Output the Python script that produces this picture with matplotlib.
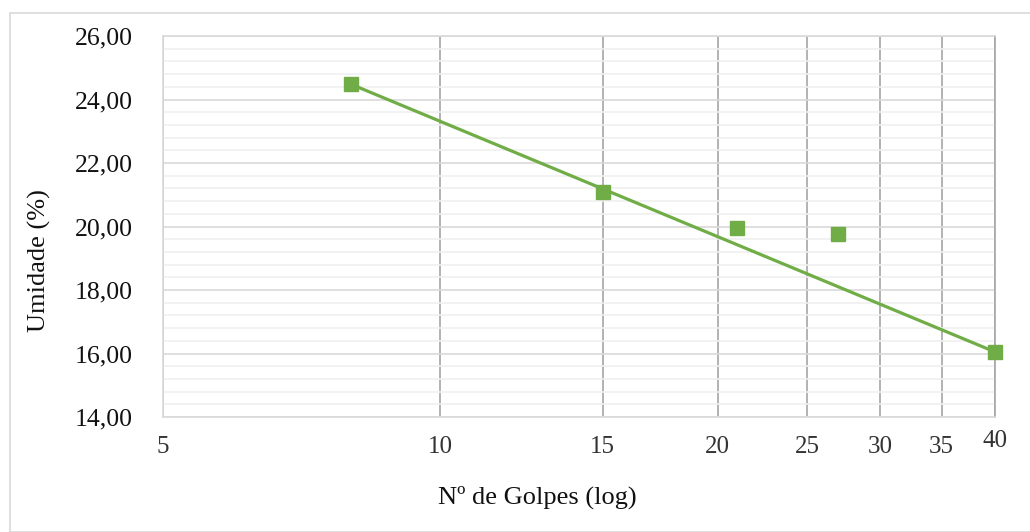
import matplotlib.pyplot as plt
import numpy as np
from matplotlib.ticker import FixedLocator, MultipleLocator, NullLocator, FuncFormatter
from matplotlib.patches import Rectangle

# data
golpes = [8, 15, 21, 27, 40]
umidade = [24.48, 21.08, 19.95, 19.77, 16.05]
trend_x = [8, 40]
trend_y = [24.48, 16.05]
x_ticks = [5, 10, 15, 20, 25, 30, 35, 40]
green = '#70AD47'

plt.rcParams['font.family'] = ['Liberation Serif', 'DejaVu Serif']

fig = plt.figure(figsize=(10.3, 5.32), dpi=100)
# outer chart border
fig.patches.append(Rectangle((10/1030, 0), 1.2, 1 - 13/532, transform=fig.transFigure,
                             fill=False, edgecolor='#d9d9d9', linewidth=1.2))
ax = fig.add_axes([163/1030, 1 - 417/532, 832/1030, 381/532])

ax.set_xscale('log')
ax.set_xlim(5, 40)
ax.set_ylim(14, 26)

ax.xaxis.set_major_locator(FixedLocator(x_ticks))
ax.xaxis.set_minor_locator(NullLocator())
ax.xaxis.set_major_formatter(FuncFormatter(lambda v, p: f'{v:g}'))
ax.yaxis.set_major_locator(MultipleLocator(2))
ax.yaxis.set_minor_locator(MultipleLocator(0.4))
ax.yaxis.set_major_formatter(FuncFormatter(lambda v, p: f'{v:.2f}'.replace('.', ',')))

ax.grid(axis='y', which='minor', color='#f0f0f0', linewidth=1.2)
ax.grid(axis='y', which='major', color='#d9d9d9', linewidth=1.2)
ax.grid(axis='x', which='major', color='#a6a6a6', linewidth=1.2)
ax.set_axisbelow(True)

for s in ['top', 'left', 'bottom']:
    ax.spines[s].set_color('#d9d9d9')
    ax.spines[s].set_linewidth(1.2)
ax.spines['right'].set_color('#a6a6a6')
ax.spines['right'].set_linewidth(1.2)

ax.tick_params(axis='both', which='both', length=0)
ax.tick_params(axis='y', labelsize=18.5, pad=22, labelcolor='#111111')
ax.tick_params(axis='x', labelsize=18, pad=14, labelcolor='#333333')
for lab in ax.get_xticklabels():
    if lab.get_text() == '40':
        lab.set_y(0.018)

ax.plot(trend_x, trend_y, color=green, linewidth=2.3, zorder=3)
ax.plot(golpes, umidade, linestyle='none', marker='s', markersize=10.5,
        color=green, zorder=4, clip_on=False)

ax.set_xlabel('Nº de Golpes (log)', fontsize=19, color='#111111')
ax.set_ylabel('Umidade (%)', fontsize=19, color='#111111')
ax.xaxis.set_label_coords(0.45, -0.18)
ax.yaxis.set_label_coords(-0.135, 0.41)

fig.savefig('out.png', dpi=100)
